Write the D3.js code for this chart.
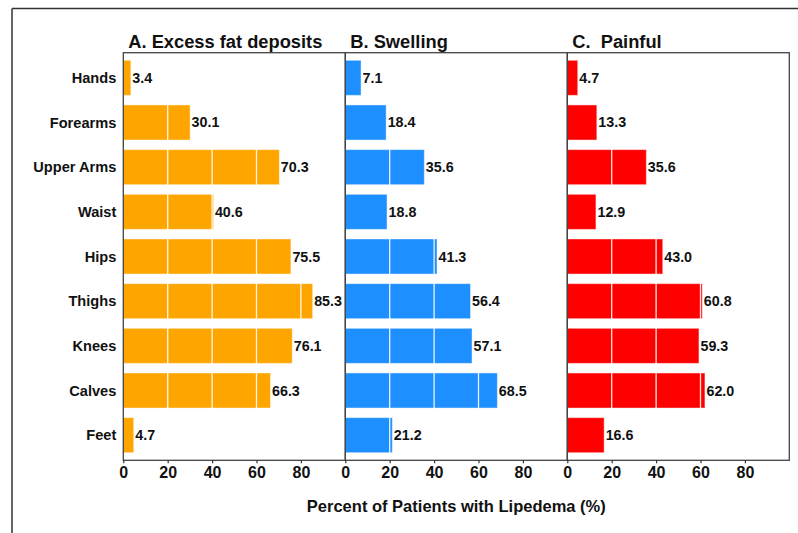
<!DOCTYPE html>
<html>
<head>
<meta charset="utf-8">
<script src="https://cdn.jsdelivr.net/npm/d3@7"></script>
<style>
	body { margin: 0; background: #fff; }
	text { font-family: "Liberation Sans", Arial, sans-serif; font-weight: bold; fill: #111; }
</style>
</head>
<body>
<div id="container"></div>
<script>

var regions = ["Hands", "Forearms", "Upper Arms", "Waist", "Hips", "Thighs", "Knees", "Calves", "Feet"];
var fatValues = [3.4, 30.1, 70.3, 40.6, 75.5, 85.3, 76.1, 66.3, 4.7];
var swellingValues = [7.1, 18.4, 35.6, 18.8, 41.3, 56.4, 57.1, 68.5, 21.2];
var painValues = [4.7, 13.3, 35.6, 12.9, 43.0, 60.8, 59.3, 62.0, 16.6];
var panelTitles = ["A. Excess fat deposits", "B. Swelling", "C.\u00a0 Painful"];
var tickValues = [0, 20, 40, 60, 80];
var axisTitle = "Percent of Patients with Lipedema (%)";

var panels = [
	{title: panelTitles[0], values: fatValues, color: "#FFA500"},
	{title: panelTitles[1], values: swellingValues, color: "#1E8FFF"},
	{title: panelTitles[2], values: painValues, color: "#FF0000"}
];

function render() {
	var width = 798, height = 533;
	var svg = d3.select("#container")
		.append("svg")
		.attr("width", width)
		.attr("height", height);

	// outer frame (only top and left edges show)
	svg.append("line").attr("x1", 12).attr("x2", width).attr("y1", 8.5).attr("y2", 8.5)
		.attr("stroke", "#333").attr("stroke-width", 1.5);
	svg.append("line").attr("x1", 12).attr("x2", 12).attr("y1", 8.5).attr("y2", height)
		.attr("stroke", "#333").attr("stroke-width", 1.5);

	var top = 52.7, bottom = 460.3, left = 123.3, panelW = 222;

	var y = d3.scaleBand()
		.domain(regions)
		.range([top, bottom])
		.paddingInner(0.215)
		.paddingOuter(0.17);

	// category labels
	svg.selectAll(".cat")
		.data(regions)
		.enter()
		.append("text")
		.attr("class", "cat")
		.attr("x", left - 7)
		.attr("y", d => y(d) + y.bandwidth() / 2)
		.attr("dy", "0.35em")
		.attr("text-anchor", "end")
		.style("font-size", "14.6px")
		.text(d => d);

	panels.forEach((p, k) => {
		var x0 = left + k * panelW;
		var x = d3.scaleLinear().domain([0, 100]).range([x0, x0 + panelW]);
		var g = svg.append("g");

		g.selectAll(".bar")
			.data(p.values)
			.enter()
			.append("rect")
			.attr("x", x(0))
			.attr("y", (d, i) => y(regions[i]))
			.attr("width", d => x(d) - x(0))
			.attr("height", y.bandwidth())
			.attr("fill", p.color)
			.attr("stroke", "#fff")
			.attr("stroke-opacity", 0.45)
			.attr("stroke-width", 1);

		// white grid lines over the bars
		g.selectAll(".grid")
			.data(tickValues.slice(1))
			.enter()
			.append("line")
			.attr("x1", d => x(d))
			.attr("x2", d => x(d))
			.attr("y1", top + 1)
			.attr("y2", bottom - 1)
			.attr("stroke", "#fff")
			.attr("stroke-width", 1.3)
			.attr("stroke-opacity", 0.9);

		g.selectAll(".val")
			.data(p.values)
			.enter()
			.append("text")
			.attr("x", d => x(d) + 1.5)
			.attr("y", (d, i) => y(regions[i]) + y.bandwidth() / 2)
			.attr("dy", "0.35em")
			.style("font-size", "14.3px")
			.text(d => d.toFixed(1));

		// panel box
		g.append("rect")
			.attr("x", x0)
			.attr("y", top)
			.attr("width", panelW)
			.attr("height", bottom - top)
			.attr("fill", "none")
			.attr("stroke", "#444")
			.attr("stroke-width", 1.3);

		var axis = d3.axisBottom(x)
			.tickValues(tickValues)
			.tickSize(3)
			.tickPadding(3)
			.tickFormat(d3.format("d"));

		var ax = g.append("g")
			.attr("transform", "translate(0," + bottom + ")")
			.call(axis);
		ax.select(".domain").remove();
		ax.selectAll("line").attr("stroke", "#333").attr("stroke-width", 1.2);
		ax.selectAll("text")
			.style("font-size", "16px")
			.style("font-family", "'Liberation Sans', Arial, sans-serif")
			.style("font-weight", "bold")
			.attr("fill", "#111");

		g.append("text")
			.attr("x", x0 + 5)
			.attr("y", 47.7)
			.style("font-size", "18.3px")
			.text(p.title);
	});

	svg.append("text")
		.attr("x", left + panelW * 1.5)
		.attr("y", 512)
		.attr("text-anchor", "middle")
		.style("font-size", "16.5px")
		.text(axisTitle);
}

render();
</script>
</body>
</html>
